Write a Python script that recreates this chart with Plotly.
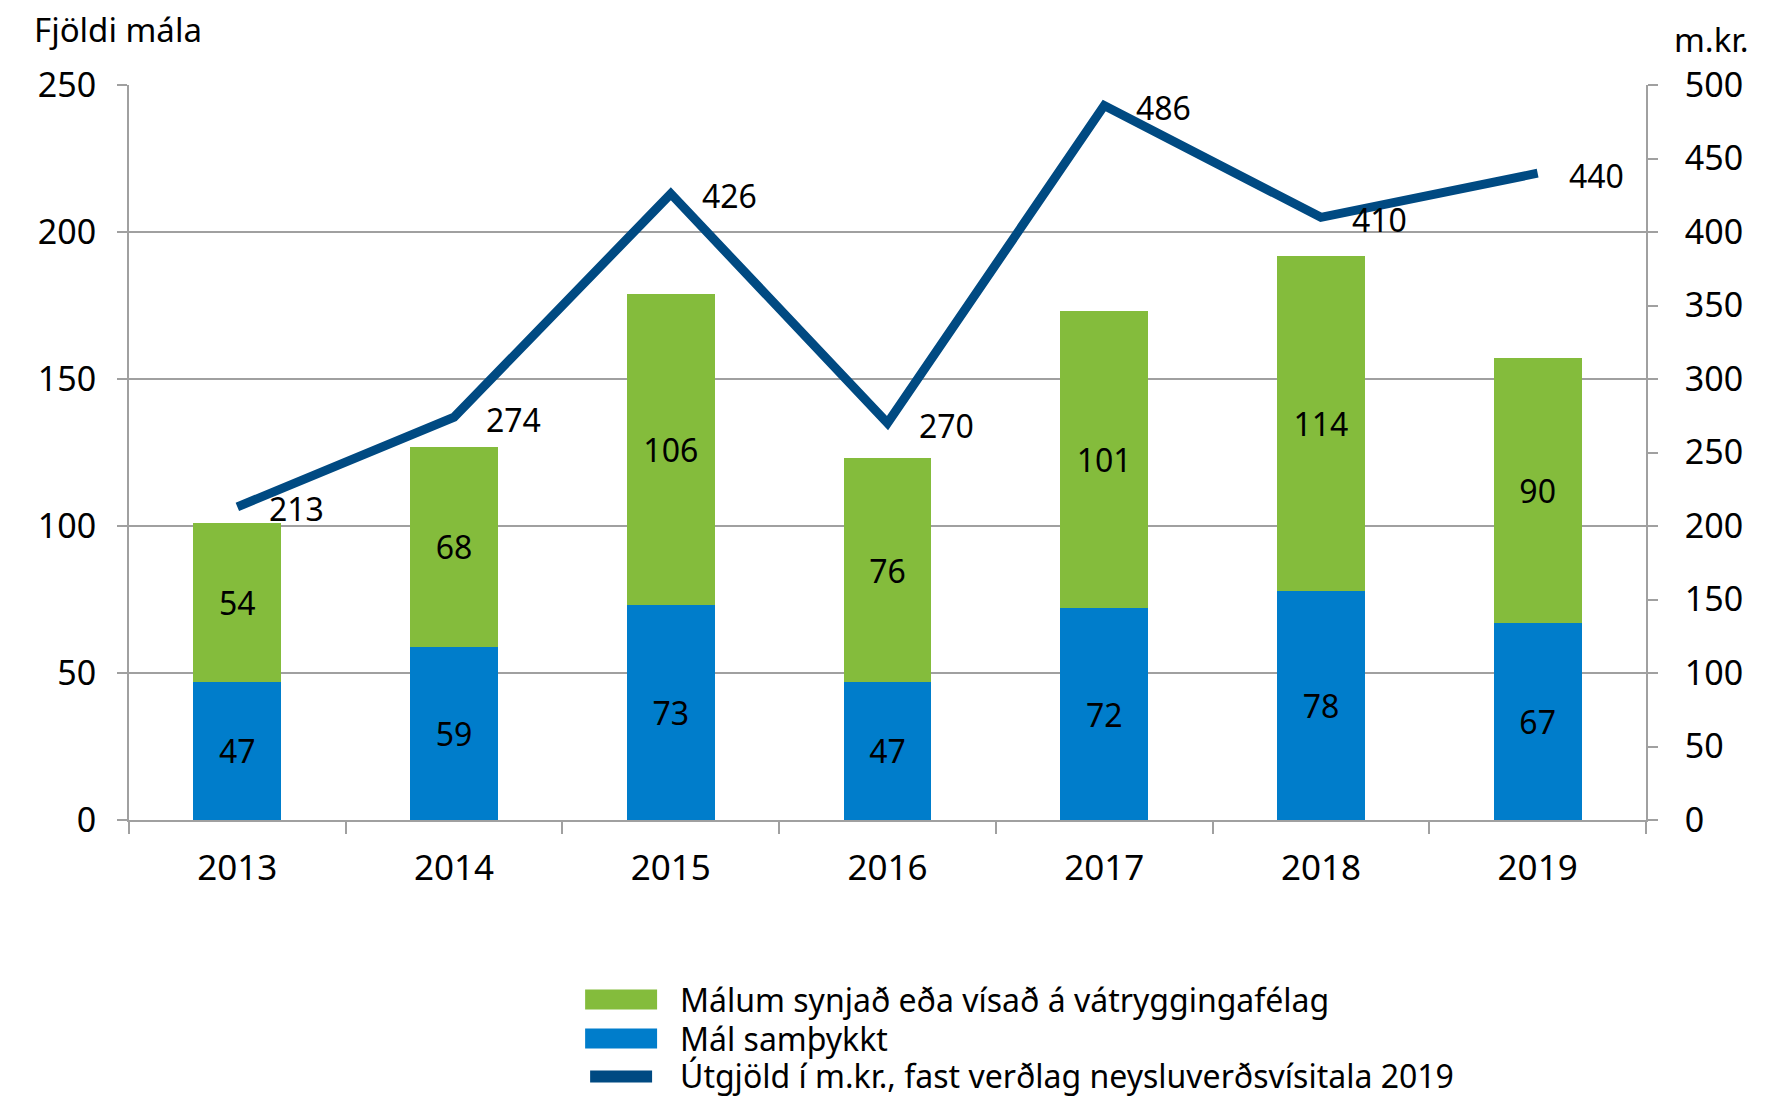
import plotly.graph_objects as go

years = ["2013", "2014", "2015", "2016", "2017", "2018", "2019"]
approved = [47, 59, 73, 47, 72, 78, 67]
rejected = [54, 68, 106, 76, 101, 114, 90]
expenses = [213, 274, 426, 270, 486, 410, 440]

FONT = "Noto Sans"
FS_TICK = 34
FS_X = 35
FS_LBL = 32
FS_TXT = 33
FS_LEG = 32
W, H = 1784, 1097
L, R, T, B = 128.6, 1646.5, 85.3, 820.4

def px(xp):
    return (xp - L) / (R - L)

def py(yp):
    return (B - yp) / (B - T)

green = "#84bc3c"
blue = "#007dcb"
navy = "#004a82"
grid = "#a0a0a0"

lbl_font = dict(family=FONT, size=FS_LBL, color="black")
fig = go.Figure()
fig.add_trace(go.Bar(x=years, y=approved, name="Mál samþykkt", marker_color=blue,
                     marker_line_width=0, width=0.405, text=approved,
                     textposition="inside", insidetextanchor="middle", textangle=0,
                     textfont=lbl_font, showlegend=False))
fig.add_trace(go.Bar(x=years, y=rejected, name="Málum synjað eða vísað á vátryggingafélag",
                     marker_color=green, marker_line_width=0, width=0.405, text=rejected,
                     textposition="inside", insidetextanchor="middle", textangle=0,
                     textfont=lbl_font, showlegend=False))
fig.add_trace(go.Scatter(x=years, y=expenses, yaxis="y2", mode="lines",
                         line=dict(color=navy, width=9),
                         name="Útgjöld í m.kr., fast verðlag neysluverðsvísitala 2019",
                         showlegend=False))

for i, v in enumerate(expenses):
    fig.add_annotation(x=i, y=v, xref="x", yref="y2", text=str(v), showarrow=False,
                       xshift=59, yshift=-2, font=lbl_font)

tick_font = dict(family=FONT, size=FS_TICK, color="black")
txt_font = dict(family=FONT, size=FS_TXT, color="black")
leg_font = dict(family=FONT, size=FS_LEG, color="black")
fig.update_layout(
    width=W, height=H,
    margin=dict(l=L, r=W - R, t=T, b=H - B, autoexpand=False),
    paper_bgcolor="white", plot_bgcolor="white",
    barmode="stack",
    font=dict(family=FONT, size=FS_TXT, color="black"),
    uniformtext=dict(minsize=FS_LBL, mode="show"),
    xaxis=dict(type="category", range=[-0.5, 6.5], tickson="boundaries", ticks="outside",
               ticklen=12, tickcolor=grid, tickwidth=2, showline=True, linecolor=grid,
               linewidth=2, showgrid=False, tickfont=dict(family=FONT, size=FS_X, color="black"),
               ticklabelstandoff=16),
    yaxis=dict(range=[0, 250], dtick=50, showgrid=True, gridcolor=grid, gridwidth=2,
               showline=True, linecolor=grid, linewidth=2, ticks="outside", ticklen=10,
               tickcolor=grid, tickwidth=2, tickfont=tick_font, zeroline=False,
               ticklabelstandoff=14),
    yaxis2=dict(range=[0, 500], dtick=50, overlaying="y", side="right", showgrid=False,
                showline=True, linecolor=grid, linewidth=2, ticks="outside", ticklen=10,
                tickcolor=grid, tickwidth=2, tickfont=tick_font, zeroline=False,
                ticklabelstandoff=20),
)

fig.add_annotation(xref="paper", yref="paper", x=px(32), y=py(30), xanchor="left",
                   yanchor="middle", text="Fjöldi mála", showarrow=False, font=txt_font)
fig.add_annotation(xref="paper", yref="paper", x=px(1752), y=py(40), xanchor="right",
                   yanchor="middle", text="m.kr.", showarrow=False, font=txt_font)

# custom legend
legend_items = [
    ("Málum synjað eða vísað á vátryggingafélag", green, 1000),
    ("Mál samþykkt", blue, 1039),
]
for label, col, cy in legend_items:
    fig.add_shape(type="rect", xref="paper", yref="paper", x0=px(585), x1=px(657),
                  y0=py(cy - 10), y1=py(cy + 10), fillcolor=col, line_width=0)
    fig.add_annotation(xref="paper", yref="paper", x=px(679), y=py(cy), xanchor="left",
                       yanchor="middle", text=label, showarrow=False, font=leg_font,
                       borderpad=0)
fig.add_shape(type="line", xref="paper", yref="paper", x0=px(590), x1=px(652),
              y0=py(1077), y1=py(1077), line=dict(color=navy, width=12))
fig.add_annotation(xref="paper", yref="paper", x=px(679), y=py(1076), xanchor="left",
                   yanchor="middle", text="Útgjöld í m.kr., fast verðlag neysluverðsvísitala 2019",
                   showarrow=False, font=leg_font, borderpad=0)

fig.write_html("out.html", config={"displayModeBar": False},
               post_script="document.body.style.margin='0px';document.body.style.overflow='hidden';")
